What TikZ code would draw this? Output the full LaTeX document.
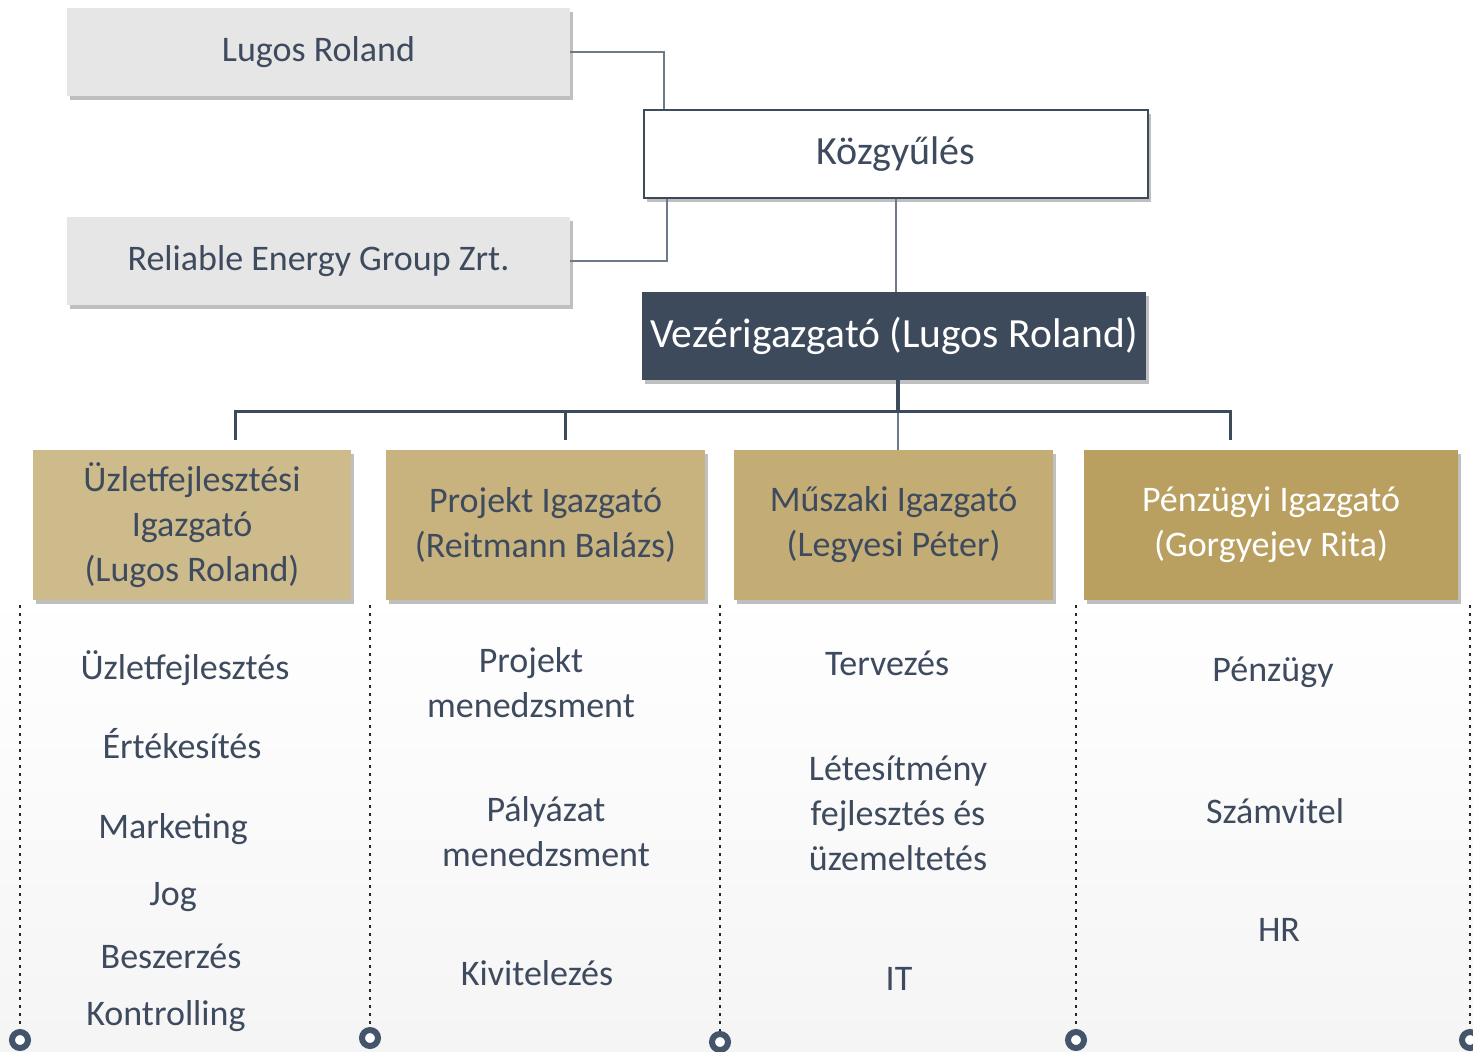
\documentclass[tikz,border=0pt]{standalone}
\usepackage{fontspec}
\setmainfont{Carlito}
\usetikzlibrary{shadows,calc}
\definecolor{slate}{HTML}{3D4A5C}
\definecolor{txt}{HTML}{3E4A5E}
\definecolor{grayb}{HTML}{E6E6E6}
\definecolor{gold1}{HTML}{CDBB8B}
\definecolor{gold2}{HTML}{C8B37F}
\definecolor{gold3}{HTML}{C4AD75}
\definecolor{gold4}{HTML}{B9A060}
\definecolor{conn}{HTML}{6E7A8A}
\definecolor{ring}{HTML}{44546A}
\begin{document}
\begin{tikzpicture}[x=1pt,y=-1pt,
  box/.style={rectangle, inner sep=0pt, align=center, text=txt, font=\fontsize{36}{45}\selectfont},
  shad/.style={drop shadow={shadow xshift=3pt, shadow yshift=-4pt, opacity=0.25, fill=black}},
  graybox/.style={box, shad, fill=grayb, minimum width=503pt, minimum height=88pt},
  goldbox/.style={box, shad, minimum width=319pt, minimum height=150pt},
  item/.style={align=center, text=txt, inner sep=0pt, font=\fontsize{36}{45}\selectfont},
  thinconn/.style={draw=conn, line width=1.5pt},
  busline/.style={draw=slate, line width=3pt},
  dotline/.style={draw=black!85, line width=2.5pt, dash pattern=on 2.5pt off 5.5pt},
  ringnode/.style={circle, draw=ring, line width=6pt, minimum size=16pt, inner sep=0pt, fill=white}
]
\useasboundingbox (0,0) rectangle (1473,1052);
\fill[white] (0,0) rectangle (1473,1052);
\shade[top color=white, bottom color=black!4] (0,590) rectangle (1473,1052);

% top boxes
\node[graybox] (lugos) at (318.5,52) {Lugos Roland};
\node[graybox] (rel) at (318.5,261) {Reliable Energy Group Zrt.};
\node[box, shad, fill=white, draw=slate, line width=2pt, minimum width=504pt, minimum height=88pt,
      font=\fontsize{40}{48}\selectfont] (koz) at (896,154) {Közgyűlés};
\node[box, shad, fill=slate, text=white, minimum width=504pt, minimum height=88pt,
      font=\fontsize{41.5}{48}\selectfont] (vez) at (894,336) {Vezérigazgató (Lugos Roland)};

% director boxes
\node[goldbox, fill=gold1, minimum width=318pt] (b1) at (192,525) {Üzletfejlesztési\\Igazgató\\(Lugos Roland)};
\node[goldbox, fill=gold2] (b2) at (545.5,525) {Projekt Igazgató\\(Reitmann Balázs)};
\node[goldbox, fill=gold3] (b3) at (893.5,525) {Műszaki Igazgató\\(Legyesi Péter)};
\node[goldbox, fill=gold4, text=white, minimum width=374pt] (b4) at (1271,525) {Pénzügyi Igazgató\\(Gorgyejev Rita)};

% top connectors
\draw[thinconn] (lugos.east) -| ($(koz.north west)+(21,0)$);
\draw[thinconn] (rel.east) -| ($(koz.south west)+(24,0)$);
\draw[thinconn] (koz.south) -- (koz.south |- vez.north);

% bus
\coordinate (j1) at (235,411);
\coordinate (j2) at (565,411);
\coordinate (j3) at (898,411);
\coordinate (j4) at (1230,411);
\draw[thinconn] (j3) -- (j3 |- b3.north);
\draw[busline] ($(j1 |- b1.north)+(0,-10)$) -- (j1) -- (j4) -- ($(j4 |- b4.north)+(0,-10)$);
\draw[busline] (j2) -- ($(j2 |- b2.north)+(0,-10)$);
\draw[draw=slate, line width=4pt] (j3 |- vez.south) -- (j3);

% dotted separators with rings
\foreach \i/\x/\y in {1/20/1040, 2/370/1038, 3/720/1042, 4/1076/1040, 5/1470/1040}{
  \node[ringnode] (r\i) at (\x,\y) {};
  \coordinate (t\i) at (\x,605);
  \draw[dotline] (t\i) -- (r\i.north);
}

% column 1 items
\node[item] (i11) at (185,668) {Üzletfejlesztés};
\node[item] (i12) at (182,744) {Értékesítés};
\node[item] (i13) at (173,829) {Marketing};
\node[item] (i14) at (173,897) {Jog};
\node[item] (i15) at (171,956) {Beszerzés};
\node[item] (i16) at (166,1016) {Kontrolling};
% column 2
\node[item] (i21) at (531,683) {Projekt\\menedzsment};
\node[item] (i22) at (546,832) {Pályázat\\menedzsment};
\node[item] (i23) at (537,973) {Kivitelezés};
% column 3
\node[item] (i31) at (887,663) {Tervezés};
\node[item] (i32) at (898,813) {Létesítmény\\fejlesztés és\\üzemeltetés};
\node[item] (i33) at (899,979) {IT};
% column 4
\node[item] (i41) at (1273,672) {Pénzügy};
\node[item] (i42) at (1275,811) {Számvitel};
\node[item] (i43) at (1279,930) {HR};
\end{tikzpicture}
\end{document}
